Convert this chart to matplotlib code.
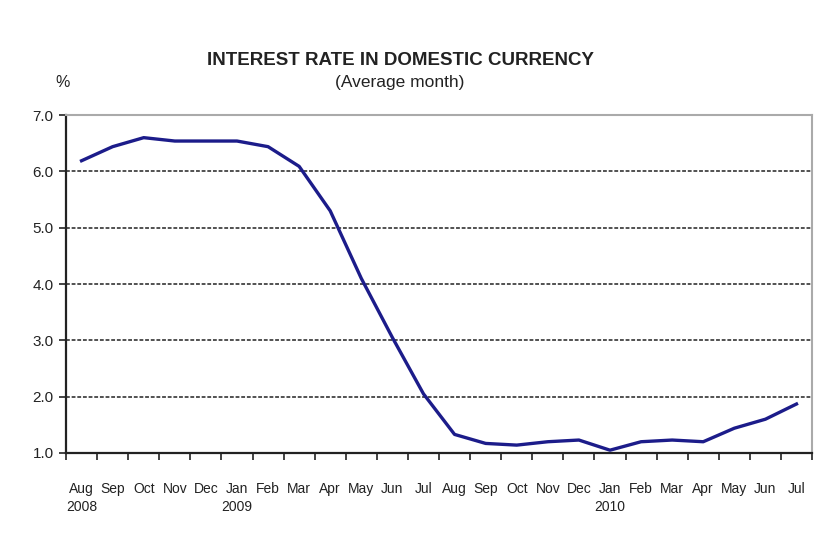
import matplotlib
matplotlib.use("Agg")
import matplotlib.pyplot as plt
from matplotlib.ticker import FixedLocator

months = ["Aug\n2008", "Sep", "Oct", "Nov", "Dec", "Jan\n2009", "Feb", "Mar", "Apr", "May", "Jun", "Jul",
          "Aug", "Sep", "Oct", "Nov", "Dec", "Jan\n2010", "Feb", "Mar", "Apr", "May", "Jun", "Jul"]
rates = [6.19, 6.44, 6.60, 6.54, 6.54, 6.54, 6.44, 6.09, 5.30, 4.10, 3.05, 2.05,
         1.33, 1.17, 1.14, 1.20, 1.23, 1.05, 1.20, 1.23, 1.20, 1.44, 1.60, 1.87]
yticks = [1.0, 2.0, 3.0, 4.0, 5.0, 6.0, 7.0]

plt.rcParams['font.family'] = ["Liberation Sans", "DejaVu Sans"]

fig = plt.figure(figsize=(8.18, 5.38), dpi=100)
ax = fig.add_axes([0.0807, 0.158, 0.912, 0.628])

x = list(range(len(rates)))
ax.plot(x, rates, color="#1c1c8a", lw=2.4, solid_joinstyle="round", zorder=3)

ax.set_xlim(-0.5, len(rates) - 0.5)
ax.set_ylim(1.0, 7.0)
ax.set_yticks(yticks)
ax.set_yticklabels([f"{v:.1f}" for v in yticks], fontsize=11, color="#222222")
for v in yticks[1:-1]:
    ax.axhline(v, color="#222222", lw=1.1, ls=(0, (2.5, 1.2)), zorder=1)

ax.set_xticks(x)
ax.set_xticklabels(months, fontsize=10, color="#222222", linespacing=1.35, va="top", ha="center")
ax.tick_params(axis="x", which="major", length=0, pad=21)
ax.xaxis.set_minor_locator(FixedLocator([i - 0.5 for i in range(len(rates) + 1)]))
ax.tick_params(axis="x", which="minor", length=5, width=1.2, direction="out", color="#222222")
ax.tick_params(axis="y", length=5, width=1.2, direction="out", color="#222222", pad=4)

for s in ["left", "bottom"]:
    ax.spines[s].set_color("#222222")
    ax.spines[s].set_linewidth(1.6)
for s in ["top", "right"]:
    ax.spines[s].set_color("#aaaaaa")
    ax.spines[s].set_linewidth(1.5)

fig.text(0.489, 0.888, "INTEREST RATE IN DOMESTIC CURRENCY", ha="center", va="center",
         fontsize=13.5, fontweight="bold", color="#222222")
fig.text(0.489, 0.847, "(Average month)", ha="center", va="center", fontsize=12.5, color="#222222")
fig.text(0.076, 0.847, "%", ha="center", va="center", fontsize=11.5, color="#222222")

fig.savefig("out.png", dpi=100, facecolor="white")
